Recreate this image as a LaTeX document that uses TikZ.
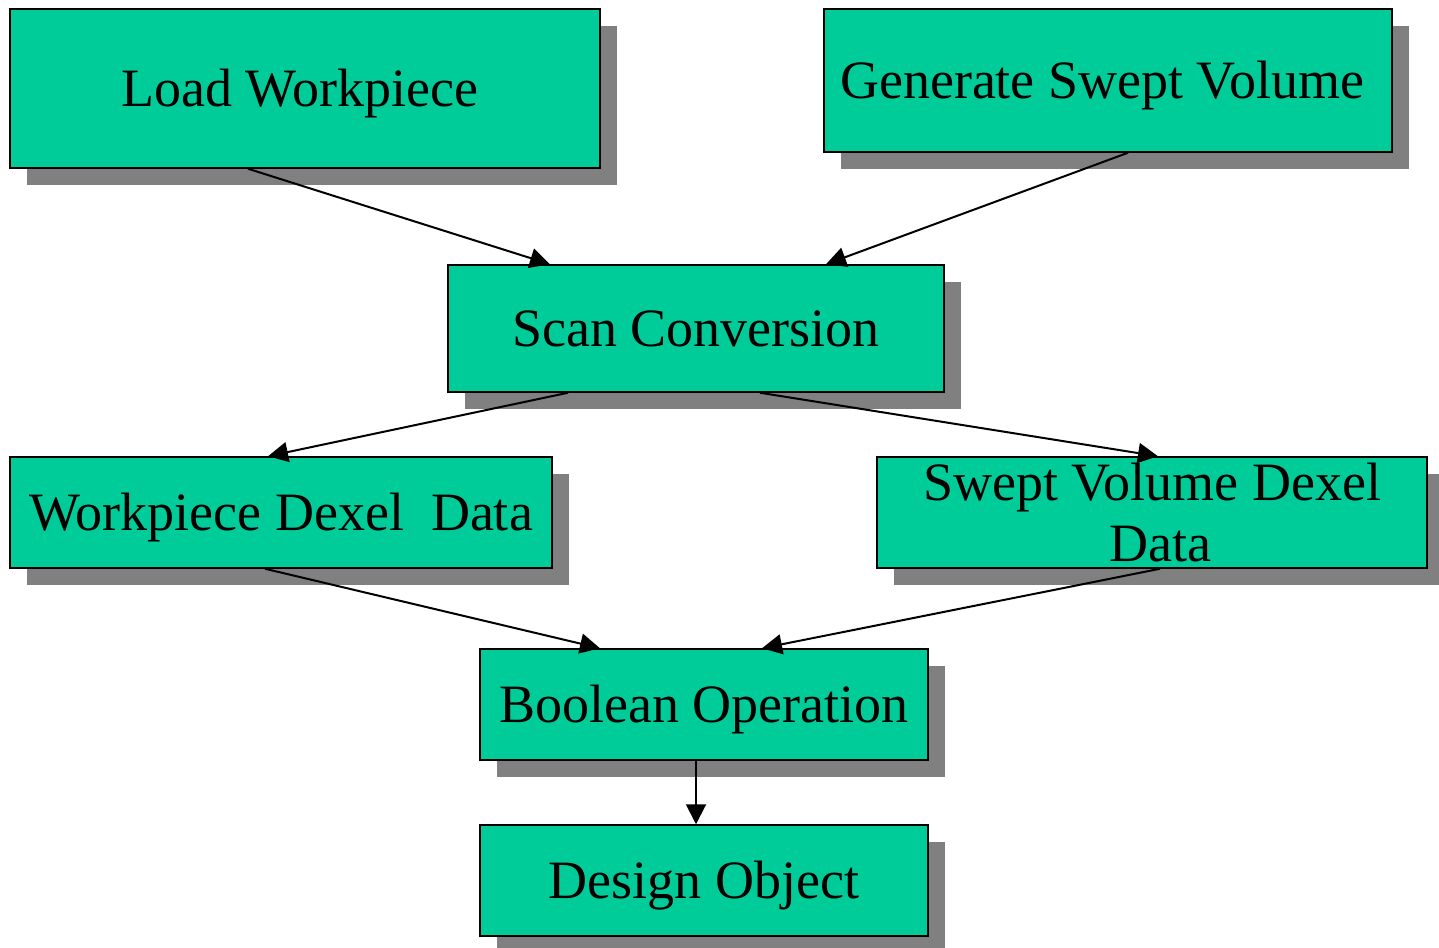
\documentclass[tikz,border=0pt]{standalone}
\usepackage{fontspec}
\setmainfont{Liberation Serif}
\usetikzlibrary{arrows.meta,shadows,calc}
\definecolor{boxfill}{HTML}{00CC99}
\definecolor{shadowgray}{HTML}{808080}
\begin{document}
\begin{tikzpicture}[x=1pt,y=-1pt,
  boxbase/.style={draw=black, line width=1.5pt, fill=boxfill, rectangle,
    inner sep=0pt, font=\fontsize{54}{61}\selectfont,
    drop shadow={shadow xshift=17pt, shadow yshift=-17pt, fill=shadowgray, opacity=1}},
  box/.style={boxbase, text height=36pt, text depth=0pt},
  flow/.style={line width=2pt, -{Triangle[length=20pt,width=20pt]}}]
\useasboundingbox (0,0) rectangle (1439,947);

% process boxes
\node[box, minimum width=590pt, minimum height=159pt] (load) at (305,88.5) {Load Workpiece\hspace*{10pt}};
\node[box, minimum width=568pt, minimum height=143pt] (gen) at (1108,80.5) {Generate Swept Volume\hspace*{12pt}};
\node[box, minimum width=496pt, minimum height=127pt] (scan) at (696,328.5) {Scan Conversion};
\node[box, minimum width=542pt, minimum height=111pt] (wdd) at (281,512.5) {Workpiece Dexel\ \ Data};
\node[boxbase, align=center, minimum width=550pt, minimum height=111pt] (svd) at (1152,512.5) {Swept Volume Dexel\\\hspace*{16pt}Data};
\node[box, minimum width=448pt, minimum height=111pt] (bool) at (704,704.5) {Boolean Operation};
\node[box, minimum width=448pt, minimum height=111pt] (design) at (704,880.5) {Design Object};

% connectors
\draw[flow] ($(load.south)+(-57,0)$) -- ($(scan.north)+(-146,0)$);
\draw[flow] ($(gen.south)+(20,0)$) -- ($(scan.north)+(130,0)$);
\draw[flow] ($(scan.south)+(-128,0)$) -- ($(wdd.north)+(-13,0)$);
\draw[flow] ($(scan.south)+(64,0)$) -- ($(svd.north)+(6,0)$);
\draw[flow] ($(wdd.south)+(-16,0)$) -- ($(bool.north)+(-104,0)$);
\draw[flow] ($(svd.south)+(8,0)$) -- ($(bool.north)+(58,0)$);
\draw[flow] ($(bool.south)+(-8,0)$) -- ($(design.north)+(-8,0)$);
\end{tikzpicture}
\end{document}
